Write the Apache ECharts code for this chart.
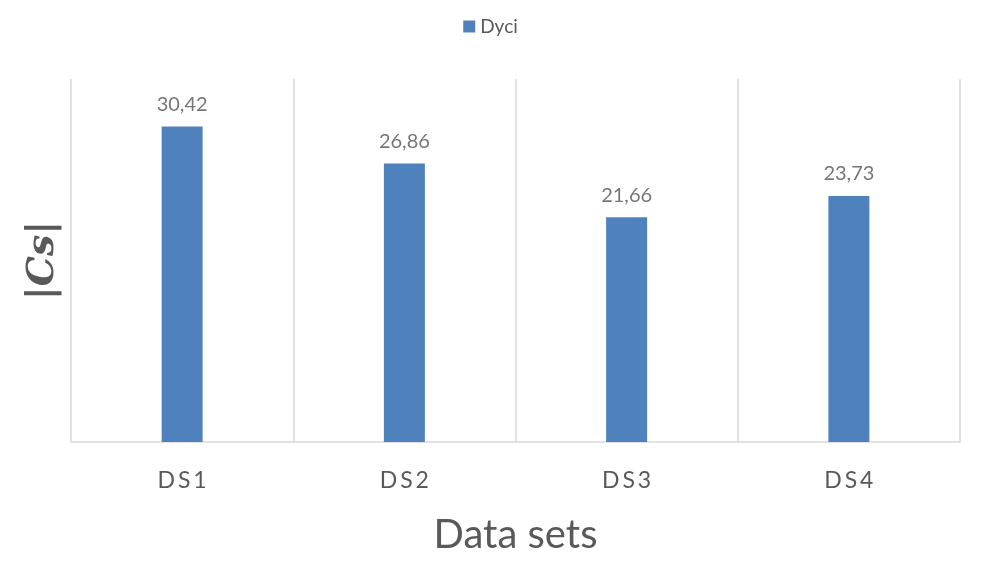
<!DOCTYPE html>
<html><head><meta charset="utf-8">
<script src="https://cdn.jsdelivr.net/npm/echarts@6/dist/echarts.min.js"></script>
<style>html,body{margin:0;padding:0;background:#fff}#c{width:981px;height:567px}</style>
</head><body><div id="c"></div>
<script>
const categories = ['DS1', 'DS2', 'DS3', 'DS4'];
const seriesName = 'Dyci';
const values = [30.42, 26.86, 21.66, 23.73];
const yMax = 35;

const chart = echarts.init(document.getElementById('c'), null, {renderer: 'canvas'});
chart.setOption({
  animation: false,
  backgroundColor: '#ffffff',
  legend: {
    top: 12, left: 'center',
    itemWidth: 12, itemHeight: 12, itemGap: 6,
    icon: 'rect',
    textStyle: {fontFamily: 'Lato', fontSize: 19, color: '#595959'},
    data: [seriesName]
  },
  grid: {left: 71, right: 21, top: 79, bottom: 125},
  xAxis: {
    type: 'category',
    data: categories,
    boundaryGap: true,
    axisLine: {lineStyle: {color: '#d9d9d9', width: 1.5}},
    axisTick: {show: false},
    splitLine: {show: true, lineStyle: {color: '#d9d9d9', width: 1.5}},
    axisLabel: {margin: 27, fontFamily: 'Lato', fontSize: 23, color: '#595959',
      formatter: v => v.split('').join('\u2009')},
    name: 'Data sets',
    nameLocation: 'middle',
    nameGap: 73,
    nameTextStyle: {fontFamily: 'Lato', fontSize: 40, color: '#595959'}
  },
  yAxis: {
    type: 'value',
    min: 0, max: yMax,
    axisLine: {show: false},
    axisTick: {show: false},
    axisLabel: {show: false},
    splitLine: {show: false},
    name: '|Cs|',
    nameLocation: 'middle',
    nameRotate: 90,
    nameGap: 9,
    nameTextStyle: {fontFamily: 'DejaVu Serif', fontStyle: 'italic', fontWeight: 'bold', fontSize: 38, color: '#595959'}
  },
  series: [{
    name: seriesName,
    type: 'bar',
    data: values,
    barWidth: 41,
    itemStyle: {color: '#4f81bd'},
    label: {
      show: true, position: 'top', distance: 12,
      fontFamily: 'Lato', fontSize: 20, color: '#767676',
      formatter: p => p.value.toFixed(2).replace('.', ',')
    }
  }]
});
</script></body></html>
